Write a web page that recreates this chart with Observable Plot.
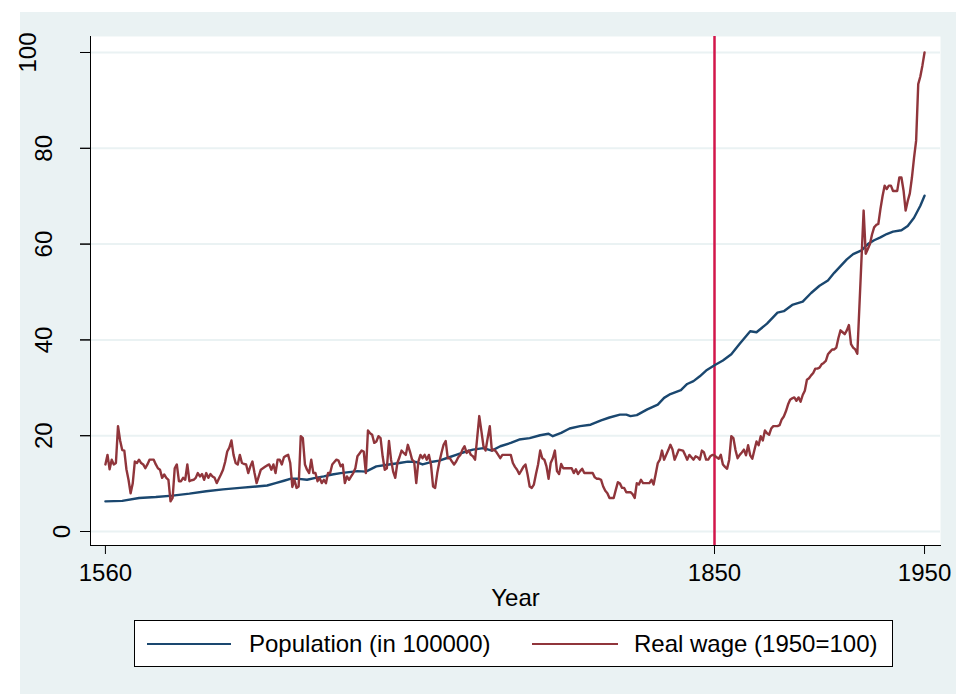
<!DOCTYPE html>
<html>
<head>
<meta charset="utf-8">
<script src="https://cdn.jsdelivr.net/npm/d3@7"></script>
<script src="https://cdn.jsdelivr.net/npm/@observablehq/plot@0.6"></script>
<style>
  body { margin: 0; background: #ffffff; font-family: "Liberation Sans", Arial, sans-serif; }
  #panel { position: absolute; left: 20px; top: 12px; width: 936px; height: 682px; background: #EAF2F3; }
  #chart { position: absolute; left: 0; top: 0; }
  #legend { position: absolute; left: 134px; top: 620px; width: 757px; height: 45px; border: 1px solid #000; background: #fff; }
  .sw { position: absolute; top: 22px; height: 2px; }
  .lt { position: absolute; top: 0; line-height: 45px; font-size: 24px; color: #000; white-space: nowrap; }
</style>
</head>
<body>
<div id="panel"></div>
<div id="chart"></div>
<div id="legend">
  <div class="sw" style="left:12px;width:84px;background:#1a476f"></div>
  <div class="lt" style="left:114px">Population (in 100000)</div>
  <div class="sw" style="left:397px;width:86px;background:#90353b"></div>
  <div class="lt" style="left:499px">Real wage (1950=100)</div>
</div>
<script>
// ---- Data ----
const xTicks = [1560, 1850, 1950];
const yTicks = [0, 20, 40, 60, 80, 100];
const markYear = [1850];

// Population (in 100000)
const popYear = [1560, 1568, 1576, 1584, 1592, 1600, 1608, 1616, 1624, 1632, 1637, 1641, 1645, 1648, 1652, 1656,
  1660, 1664, 1668, 1672, 1676, 1680, 1684, 1689, 1695, 1700, 1704, 1708, 1711, 1715, 1719, 1723, 1727, 1731,
  1735, 1740, 1744, 1748, 1753, 1757, 1762, 1767, 1771, 1773, 1777, 1781, 1786, 1791, 1796, 1800, 1805, 1808,
  1810, 1813, 1818, 1823, 1826, 1829, 1834, 1837, 1840, 1843, 1846, 1850, 1854, 1858, 1862, 1867, 1870, 1875,
  1880, 1883, 1887, 1892, 1896, 1900, 1904, 1907, 1910, 1913, 1916, 1920, 1923, 1926, 1929, 1932, 1935, 1939,
  1942, 1945, 1948, 1950];
const popValue = [6.3, 6.4, 7.0, 7.2, 7.5, 7.9, 8.4, 8.8, 9.1, 9.4, 9.6, 10.1, 10.6, 11.0, 11.0, 10.8,
  11.2, 11.5, 11.9, 12.2, 12.4, 12.6, 12.5, 13.6, 14.0, 14.3, 14.6, 14.5, 14.0, 14.5, 14.8, 15.4, 16.0, 16.6,
  17.1, 17.4, 16.9, 17.8, 18.5, 19.2, 19.5, 20.1, 20.4, 19.9, 20.6, 21.5, 22.0, 22.3, 23.2, 23.8, 24.4, 24.4,
  24.1, 24.3, 25.5, 26.5, 27.9, 28.7, 29.5, 30.8, 31.4, 32.4, 33.6, 34.7, 35.7, 37.0, 39.2, 41.8, 41.6, 43.4,
  45.7, 46.0, 47.3, 48.0, 49.8, 51.3, 52.4, 54.0, 55.4, 56.8, 57.9, 58.7, 60.0, 60.8, 61.4, 62.1, 62.6, 62.9,
  63.8, 65.5, 68.0, 70.1];

// Real wage (1950=100), annual; no observations for 1919-1920
const wageYear = [...d3.range(1560, 1919), ...d3.range(1921, 1951)];
const wageValue = [
  14, 16, 13, 15, 14, 14.3, 22, 19, 17, 16.9,            // 1560s
  13, 10.8, 8, 10, 14.6, 14.3, 15, 14.3, 14, 13.2,       // 1570s
  14, 15, 15, 15, 14, 13.2, 12.9, 11.2, 11.9, 11.2,      // 1580s
  10.8, 6.3, 7, 13.2, 14, 10.5, 10.5, 11.2, 10.8, 14,    // 1590s
  10.5, 10.7, 10.8, 11.2, 12.2, 11.5, 12, 10.8, 12.2, 11.2, // 1600s
  12, 11.5, 11.2, 10.1, 11, 11.9, 12.9, 14.5, 16.7, 17.5, // 1610s
  19, 16, 14.3, 14, 16, 14.3, 14.1, 14, 12.2, 13.6,      // 1620s
  14.6, 12.2, 10.1, 11.5, 12.9, 13.2, 13.5, 13.8, 14, 12.9, // 1630s
  14, 12.2, 15, 15, 14, 15.5, 15.8, 16, 14.3, 9.3,       // 1640s
  10.8, 9.1, 9.4, 19.9, 19.5, 14, 12.9, 12.2, 15, 12.2,  // 1650s
  12.2, 10.5, 11.2, 10.1, 10.8, 10.1, 12.2, 12.2, 14, 14.5, // 1660s
  15, 14.8, 13.6, 14, 10.1, 11.5, 10.8, 11.5, 12.2, 13.2, // 1670s
  15.7, 16.3, 16.9, 16.7, 12.2, 21.1, 20.5, 20.2, 18.5, 18.8, // 1680s
  19.9, 19.5, 15.7, 12.9, 13.2, 18.9, 15, 12.5, 11.2, 14.3, // 1690s
  15.5, 16.9, 16.4, 16, 18.1, 16.7, 15, 14.6, 10.1, 14.6, // 1700s
  16, 15.3, 16, 15, 16, 14, 9.4, 9.1, 12.2, 14.5,        // 1710s
  16.4, 18.1, 18.9, 15.3, 15.3, 14.6, 14, 14.6, 15.5, 16, // 1720s
  17.1, 17.8, 16.4, 16.9, 16, 15.7, 15, 19.5, 24.1, 21,  // 1730s
  17.8, 16.9, 19.5, 22, 16.9, 17.1, 16.7, 16, 15.3, 16,  // 1740s
  16, 16, 16, 16, 14.3, 13.5, 12.9, 12, 12.7, 13.5,      // 1750s
  14, 11.9, 9.4, 9.1, 9.8, 12, 14, 16.9, 15.3, 15,       // 1760s
  13.6, 11, 14.3, 15.3, 16.9, 12.6, 12, 14.1, 13.2, 13.2, // 1770s
  13.2, 13.2, 13.2, 12.2, 13, 12, 12.6, 13.1, 12.2, 12.2, // 1780s
  12.2, 12.2, 12.2, 11.3, 11, 11, 10.8, 9.4, 8.5, 8,     // 1790s
  7, 7, 7, 8.7, 10.3, 10, 9.1, 9.1, 8.2, 8.2,            // 1800s
  8.2, 7.8, 7, 10.1, 9.8, 10.8, 10.1, 10.1, 10.1, 10.1,  // 1810s
  10.8, 9.8, 12, 14.3, 15, 16.9, 15, 16, 17, 18.1,       // 1820s
  17.1, 15, 16, 17.1, 17, 16.9, 16, 15, 16, 15.5,        // 1830s
  15, 15.7, 15.5, 15, 16.9, 16.5, 15, 15, 15.7, 16,      // 1840s
  15.9, 15.5, 15.2, 16, 14, 13.5, 13.1, 15, 19.9, 19.5,  // 1850s
  17, 15.3, 16, 16.5, 17.1, 15.9, 18, 15.9, 15.2, 17,    // 1860s
  18.8, 18, 19.9, 19, 21.1, 20.5, 20.2, 21.5, 22, 22,    // 1870s
  22, 22.2, 23.4, 24, 25.1, 26.5, 27.5, 27.8, 28, 27.3,  // 1880s
  28, 27.1, 28.5, 29.4, 31.7, 32, 32.6, 33.1, 34, 34,    // 1890s
  34.2, 34.9, 35.2, 35.6, 37, 37.5, 38, 38, 38.4, 40.4,  // 1900s
  42, 41.6, 41.2, 42, 43.1, 39.1, 38.4, 38, 37.1,        // 1910-1918
  67, 58, 59, 60, 62, 63.5, 64, 64.2, 67.3,              // 1921-1929
  70, 72.2, 71.5, 72.2, 72.2, 71.1, 71.1, 71.1, 73.9, 73.9, // 1930s
  71.2, 67, 69, 70.6, 73.9, 78, 81.6, 93.4, 95, 97.3,    // 1940s
  100                                                    // 1950
];

const popData = popYear.map((y, i) => ({year: y, value: popValue[i]}));
const wageData = wageYear.map((y, i) => ({year: y, value: wageValue[i]}));

const fontFamily = '"Liberation Sans", Arial, Helvetica, sans-serif';

// Stata pushes rotated labels left by the unrotated label length
const yAxisGroups = [1, 2, 3].map(len => yTicks.filter(t => String(t).length === len));
const yPadding = {1: 11, 2: 29, 3: 45};

const chart = Plot.plot({
  width: 956,
  height: 610,
  marginLeft: 90,
  marginRight: 16,
  marginTop: 36,
  marginBottom: 65,
  x: {domain: [1552.9, 1957.6]},
  y: {domain: [-2.92, 103.34]},
  style: {background: "transparent", fontFamily, color: "#000", overflow: "visible"},
  marks: [
    Plot.frame({fill: "white", stroke: null}),
    Plot.ruleY(yTicks, {stroke: "#EAF2F3", strokeWidth: 2}),
    Plot.ruleX(markYear, {stroke: "#D2164B", strokeWidth: 2.5}),
    Plot.line(popData, {x: "year", y: "value", stroke: "#1a476f", strokeWidth: 2.4}),
    Plot.line(wageData, {x: "year", y: "value", stroke: "#90353b", strokeWidth: 2.4}),
    Plot.frame({anchor: "left", stroke: "#000", strokeWidth: 1}),
    Plot.frame({anchor: "bottom", stroke: "#000", strokeWidth: 1}),
    Plot.axisY(yTicks, {label: null, tickSize: 10, text: null}),
    ...yAxisGroups.map((ticks, i) => Plot.axisY(ticks, {
      label: null, tickSize: 10, tickPadding: yPadding[i + 1], tickRotate: -90, fontSize: 24,
      tickFormat: d => String(d)
    })),
    Plot.axisX(xTicks, {label: null, tickSize: 9, tickPadding: 9, fontSize: 24, tickFormat: d => String(d)}),
    Plot.text(["Year"], {text: d => d, frameAnchor: "bottom", dy: 53, lineAnchor: "middle", fontSize: 24})
  ]
});
document.getElementById("chart").appendChild(chart);
</script>
</body>
</html>
